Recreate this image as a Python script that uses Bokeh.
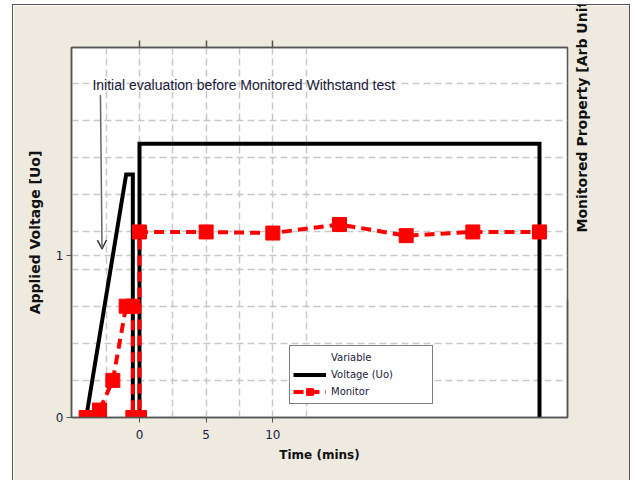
import math
from bokeh.plotting import figure
from bokeh.models import (Range1d, LinearAxis, FixedTicker, Grid, Legend,
                          LegendItem, Arrow, OpenHead, Label)
from bokeh.embed import file_html
from bokeh.resources import INLINE

# ---- data ----
time_voltage = [-4, -1, -0.5, -0.5, 0, 0, 30, 30]
voltage = [0, 1.5, 1.5, 0, 0, 1.69, 1.69, 0]

time_monitor = [-4, -3, -2, -1, -0.5, -0.5, 0, 0, 5, 10, 15, 20, 25, 30]
monitor = [0, 0.2, 1.0, 3.0, 3.0, 0, 0, 5.0, 5.0, 4.97, 5.2, 4.9, 5.0, 5.0]

x_ticks = [0, 5, 10]
x_grid = [-2.5, 0, 2.5, 5, 7.5, 10, 12.5]
y_ticks = [0, 1]
right_grid = [0, 1, 2, 3, 4, 5, 6, 7, 8, 9]

annotation = "Initial evaluation before Monitored Withstand test"
right_title = "Monitored Property [Arb Units]"

BEIGE = "#EEEAE0"
FRAME = "#555555"
GRID = "#c8c8c8"
TXT = "#1a1a3a"

p = figure(width=618, height=476,
           x_range=Range1d(-5.1, 32.1), y_range=Range1d(0, 2.284),
           output_backend="svg", toolbar_location=None,
           min_border_left=58, min_border_right=64,
           min_border_top=42, min_border_bottom=64,
           border_fill_color=BEIGE, background_fill_color="white")
p.styles = {"margin-left": "12px", "margin-top": "4px",
            "border-left": "1px solid #555555", "border-top": "1px solid #555555",
            "border-right": "1px solid #555555"}
p.extra_y_ranges = {"right": Range1d(0, 9.97)}

p.outline_line_color = FRAME
p.outline_line_width = 1.5

# grids
p.xgrid.ticker = FixedTicker(ticks=x_grid)
p.ygrid.ticker = FixedTicker(ticks=[1])
for g in (p.xgrid, p.ygrid):
    g.grid_line_color = GRID
    g.grid_line_dash = "7 4"
    g.grid_line_width = 1.5
rg = Grid(dimension=1, ticker=FixedTicker(ticks=right_grid), y_range_name="right",
          grid_line_color=GRID, grid_line_dash="7 4", grid_line_width=1.5)
p.add_layout(rg)

# bottom axis
xa = p.xaxis[0]
xa.ticker = FixedTicker(ticks=x_ticks)
xa.axis_label = "Time (mins)"
xa.axis_label_text_font = "DejaVu Sans"
xa.axis_label_text_font_style = "bold"
xa.axis_label_text_font_size = "12px"
xa.axis_label_text_color = "#111111"
xa.axis_label_standoff = 6
xa.major_label_text_font = "DejaVu Sans"
xa.major_label_text_font_size = "12px"
xa.major_label_text_color = TXT
xa.major_label_standoff = 7
xa.major_tick_out = 5
xa.major_tick_in = 0
xa.minor_tick_line_color = None
xa.axis_line_color = FRAME
xa.axis_line_width = 1.5
xa.major_tick_line_color = FRAME

# left axis
ya = p.yaxis[0]
ya.ticker = FixedTicker(ticks=y_ticks)
ya.axis_label = "Applied Voltage [Uo]"
ya.axis_label_text_font = "DejaVu Sans"
ya.axis_label_text_font_style = "bold"
ya.axis_label_text_font_size = "14px"
ya.axis_label_text_color = "#111111"
ya.axis_label_standoff = 10
ya.major_label_text_font = "DejaVu Sans"
ya.major_label_text_font_size = "12px"
ya.major_label_text_color = TXT
ya.major_label_standoff = 3
ya.major_tick_out = 5
ya.major_tick_in = 0
ya.minor_tick_line_color = None
ya.axis_line_color = FRAME
ya.axis_line_width = 1.5
ya.major_tick_line_color = FRAME

# top axis (tick marks only, drawn as minor ticks so no labels)
ta = LinearAxis(ticker=FixedTicker(ticks=[], minor_ticks=x_ticks),
                minor_tick_out=7, minor_tick_in=0, minor_tick_line_color=FRAME,
                minor_tick_line_width=1.5, major_tick_line_color=None,
                axis_line_color=FRAME, axis_line_width=1.5)
p.add_layout(ta, "above")

# right axis: title turned to read upward; with a numeric angle the title
# starts at the middle of the axis bounds, so the bounds are set so that the
# title starts near the bottom and ends up centred along the frame
ra = LinearAxis(y_range_name="right", ticker=FixedTicker(ticks=[]),
                axis_label=right_title,
                axis_label_text_font="DejaVu Sans", axis_label_text_font_style="bold",
                axis_label_text_font_size="14px", axis_label_text_color="#111111",
                axis_label_standoff=14, major_label_standoff=0,
                major_tick_out=0, major_tick_in=0, minor_tick_line_color=None,
                axis_line_color=FRAME, axis_line_width=1.5,
                bounds=(0, 3.18))
ra.axis_label_orientation = math.pi / 2
p.add_layout(ra, "right")

# data
v = p.line(time_voltage, voltage, line_color="black", line_width=4, line_join="miter")
m_line = p.line(time_monitor, monitor, y_range_name="right", line_color="red",
                line_width=4, line_dash="10 6")
m_pts = p.scatter(time_monitor, monitor, y_range_name="right", marker="square",
                  size=14, color="red")
dummy = p.line([0], [0], line_alpha=0)

# annotation + arrow
p.add_layout(Label(x=-3.53, y=2.05, text=annotation, text_font="Liberation Sans",
                   text_font_size="14px", text_color=TXT, text_baseline="middle"))
p.add_layout(Arrow(end=OpenHead(size=9, line_width=1.5, line_color="#333333"),
                   x_start=-2.93, y_start=1.99, x_end=-2.81, y_end=1.04,
                   line_color="#666666", line_width=1.5))

legend = Legend(items=[LegendItem(label="Variable", renderers=[dummy]),
                       LegendItem(label="Voltage (Uo)", renderers=[v]),
                       LegendItem(label="Monitor", renderers=[m_line, m_pts])],
                location=(218, 13), padding=3, spacing=0, margin=0,
                glyph_width=33, glyph_height=17, label_height=17, label_width=98,
                label_standoff=5, label_text_font="DejaVu Sans",
                label_text_font_size="10px", label_text_color=TXT,
                border_line_color="black", border_line_width=1,
                background_fill_color="white", background_fill_alpha=1)
p.add_layout(legend)

open("out.html", "w").write(file_html(p, INLINE))
